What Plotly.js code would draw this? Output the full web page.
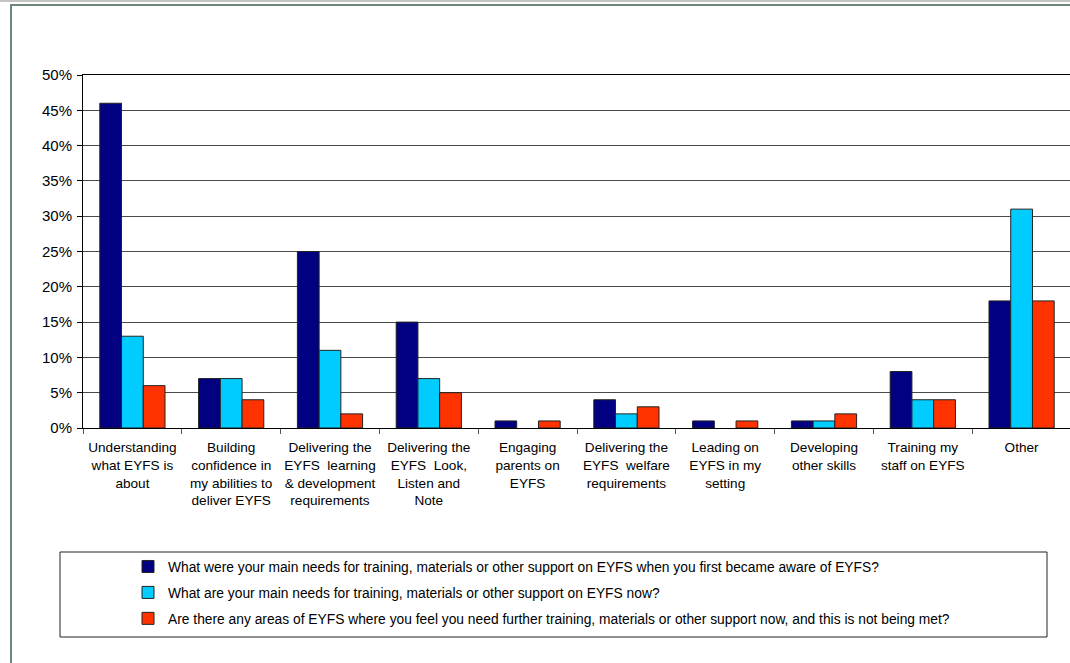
<!DOCTYPE html>
<html>
<head>
<meta charset="utf-8">
<script src="https://cdn.plot.ly/plotly-3.0.1.min.js"></script>
<style>
  html, body { margin: 0; padding: 0; background: #ffffff; overflow: hidden; }
  #wrap { position: relative; width: 1070px; height: 663px; overflow: hidden; }
  #chart { position: absolute; left: 0; top: 0; }
  .frame { position: absolute; pointer-events: none; z-index: 5; }
  #edgeTop { left: 0; top: 0; width: 1070px; height: 2px; background: #c4c4c4; }
  #frameTop { left: 10px; top: 4px; width: 1060px; height: 2px; background: #6e8878; }
  #frameLeft { left: 10px; top: 4px; width: 2px; height: 659px; background: #6e8878; }
</style>
</head>
<body>
<div id="wrap">
  <div id="chart"></div>
  <div class="frame" id="edgeTop"></div>
  <div class="frame" id="frameTop"></div>
  <div class="frame" id="frameLeft"></div>
</div>
<script>
// Support-need areas (axis categories, with line breaks as printed)
const categories = [
  "Understanding<br>what EYFS is<br>about",
  "Building<br>confidence in<br>my abilities to<br>deliver EYFS",
  "Delivering the<br>EYFS\u00a0 learning<br>& development<br>requirements",
  "Delivering the<br>EYFS\u00a0 Look,<br>Listen and<br>Note",
  "Engaging<br>parents on<br>EYFS",
  "Delivering the<br>EYFS\u00a0 welfare<br>requirements",
  "Leading on<br>EYFS in my<br>setting",
  "Developing<br>other skills",
  "Training my<br>staff on EYFS",
  "Other"
];

// Survey questions (series names)
const seriesNames = [
  "What were your main needs for training, materials or other support on EYFS when you first became aware of EYFS?",
  "What are your main needs for training, materials or other support on EYFS now?",
  "Are there any areas of EYFS where you feel you need further training, materials or other support now, and this is not being met?"
];

// Share of respondents, in percent
const needsFirstAware = [46, 7, 25, 15, 1, 4, 1, 1, 8, 18];
const needsNow        = [13, 7, 11, 7, 0, 2, 0, 1, 4, 31];
const needsNotMet     = [6, 4, 2, 5, 1, 3, 1, 2, 4, 18];

const seriesValues = [needsFirstAware, needsNow, needsNotMet];
const seriesColors = ["#000080", "#00ccff", "#ff3300"];

const FONT = "Liberation Sans, Arial, Helvetica, sans-serif";

const traces = seriesValues.map((vals, i) => ({
  type: "bar",
  name: seriesNames[i],
  x: categories,
  y: vals,
  legendgroup: "g" + i,
  marker: {
    color: seriesColors[i],
    // no outline on empty bars
    line: { color: "#222222", width: vals.map(v => (v === 0 ? 0 : 1)) }
  },
  hoverinfo: "x+y+name"
}));

// Plot area: x 83..1071, y 75..428 (px)
const L = 83, T = 75, PW = 988, PH = 353;
const px2x = p => (p - L) / PW;
const py2y = p => (T + PH - p) / PH;

const layout = {
  width: 1071,
  height: 663,
  margin: { l: L, r: 0, t: T, b: 663 - T - PH, pad: 0 },
  paper_bgcolor: "rgba(0,0,0,0)",
  plot_bgcolor: "#ffffff",
  font: { family: FONT, color: "#000000", size: 13 },
  barmode: "group",
  bargap: 0.34,
  bargroupgap: 0,
  showlegend: true,
  legend: {
    orientation: "v",
    x: px2x(128),
    xanchor: "left",
    y: py2y(551),
    yanchor: "top",
    bgcolor: "rgba(0,0,0,0)",
    borderwidth: 0,
    tracegroupgap: 5,
    font: { family: FONT, size: 13.8, color: "#000000" },
    itemclick: false,
    itemdoubleclick: false
  },
  xaxis: {
    type: "category",
    showgrid: false,
    showline: true,
    linecolor: "#000000",
    linewidth: 1,
    mirror: true,
    ticks: "outside",
    tickson: "boundaries",
    ticklen: 5,
    tickcolor: "#555555",
    tickwidth: 1,
    ticklabelstandoff: 7,
    tickfont: { family: FONT, size: 13.6, color: "#000000" },
    tickangle: 0,
    fixedrange: true
  },
  yaxis: {
    range: [0, 50],
    dtick: 5,
    tick0: 0,
    ticksuffix: "%",
    showgrid: true,
    gridcolor: "#4a4a4a",
    gridwidth: 1,
    showline: true,
    linecolor: "#000000",
    linewidth: 1,
    ticks: "outside",
    ticklen: 5,
    tickcolor: "#000000",
    tickwidth: 1,
    ticklabelstandoff: 2,
    tickfont: { family: FONT, size: 15, color: "#000000" },
    zeroline: false,
    fixedrange: true
  },
  shapes: [
    {
      type: "rect",
      xref: "paper", yref: "paper",
      x0: px2x(60), x1: px2x(1047),
      y0: py2y(552), y1: py2y(637),
      line: { color: "#222222", width: 1 },
      fillcolor: "rgba(0,0,0,0)",
      layer: "below"
    }
  ]
};

Plotly.newPlot("chart", traces, layout, { displayModeBar: false, staticPlot: false });
</script>
</body>
</html>
